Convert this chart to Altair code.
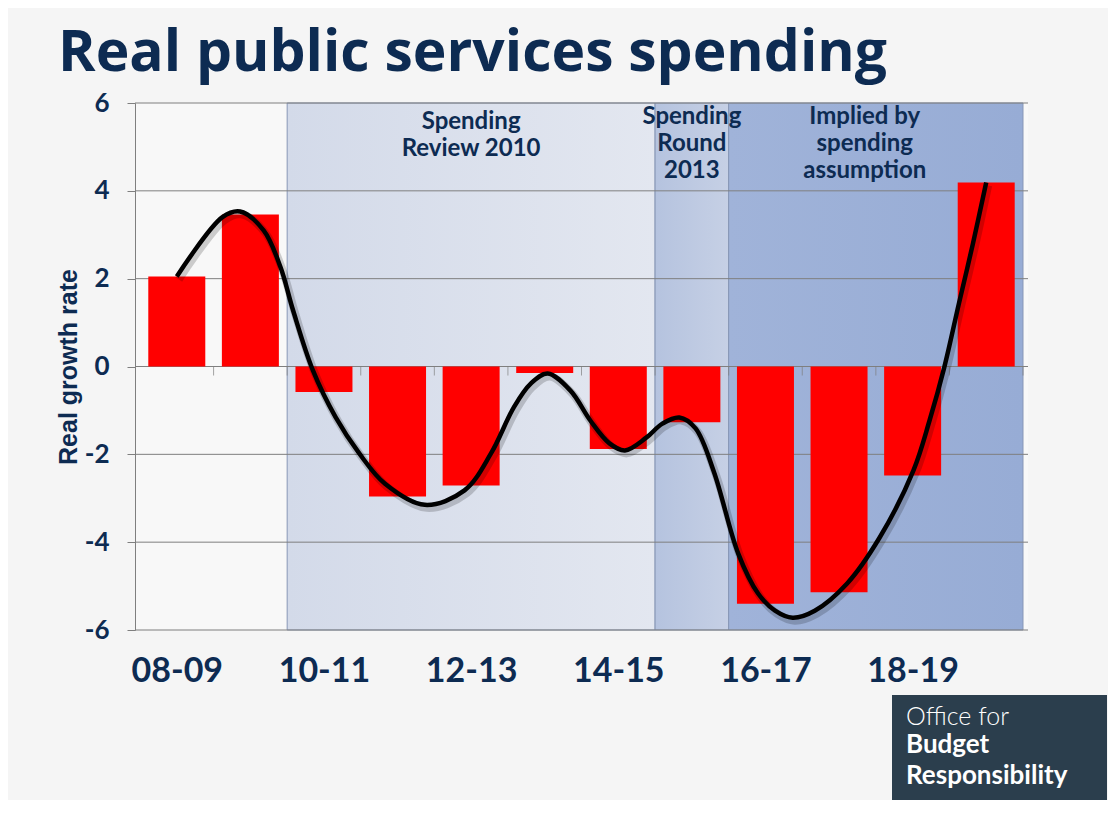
import altair as alt
import pandas as pd

NAVY = "#0d2b52"

years = ["08-09", "09-10", "10-11", "11-12", "12-13", "13-14",
         "14-15", "15-16", "16-17", "17-18", "18-19", "19-20"]
growth = [2.05, 3.46, -0.58, -2.96, -2.71, -0.15,
          -1.88, -1.27, -5.40, -5.14, -2.48, 4.19]

# hand-drawn trend curve (position on the year index, value)
curve_x = [0.0, 0.62, 0.86, 1.18, 1.41, 1.58, 1.85, 2.16, 2.48, 2.83,
           3.37, 3.91, 4.27, 4.58, 4.81, 5.04, 5.35, 5.62, 5.88, 6.09, 6.38,
           6.60, 6.83, 7.05, 7.30, 7.63, 7.90, 8.13, 8.37, 8.67, 9.11, 9.55,
           10.01, 10.23, 10.43, 10.63, 10.82, 11.0]
curve_y = [2.05, 3.40, 3.53, 3.10, 2.26, 1.28, -0.09, -1.16, -1.98, -2.67,
           -3.15, -2.82, -1.98, -0.93, -0.39, -0.16, -0.55, -1.23, -1.75, -1.91, -1.62,
           -1.30, -1.16, -1.41, -2.40, -4.26, -5.17, -5.56, -5.72, -5.56, -4.94, -3.90,
           -2.37, -1.23, -0.02, 1.44, 2.80, 4.19]

y_ticks = [-6, -4, -2, 0, 2, 4, 6]
x_label_idx = [0, 2, 4, 6, 8, 10]

band_labels = ["Spending\nReview 2010", "Spending\nRound\n2013",
               "Implied by\nspending\nassumption"]
band_start = [1.5, 6.5, 7.5]
band_end = [6.5, 7.5, 11.5]
band_text_x = [4.0, 7.0, 9.35]
band_text_y = [5.85, 5.95, 5.95]
band_fills = [("#d3dae9", "#e3e7f0"), ("#b5c3df", "#c6d0e5"), ("#a0b3d9", "#97acd5")]

W, H = 893, 527

bars_df = pd.DataFrame({"idx": range(len(years)), "year": years, "growth": growth})
curve_df = pd.DataFrame({"idx": curve_x, "val": curve_y})
grid_df = pd.DataFrame({"v": y_ticks})
ticks_df = pd.DataFrame({"b": [i + 0.5 for i in range(len(years))]})
bands_df = pd.DataFrame({"start": band_start, "end": band_end})
notes_df = pd.DataFrame({"label": band_labels, "x": band_text_x, "y": band_text_y})

label_expr = "[" + ",".join(f"'{y}'" for y in years) + "][datum.value]"

xs = alt.Scale(domain=[-0.5, len(years) - 0.5], nice=False, zero=False)
ys = alt.Scale(domain=[-6, 6], nice=False)

x_axis = alt.Axis(values=x_label_idx, labelExpr=label_expr, grid=False, domain=False,
                  ticks=False, labelFont="Lato", labelFontSize=34, labelFontWeight="bold",
                  labelColor=NAVY, labelPadding=24, title=None)
y_axis = alt.Axis(values=y_ticks, labelExpr="'' + datum.value", grid=False,
                  domainColor="#7f7f7f", tickColor="#7f7f7f", tickSize=8,
                  labelFont="Lato", labelFontSize=26, labelFontWeight="bold",
                  labelColor=NAVY, labelPadding=18, title="Real growth rate",
                  titleFont="Liberation Sans", titleFontSize=25, titleFontWeight="bold",
                  titleColor=NAVY, titlePadding=3)

base_x = alt.X("idx:Q", scale=xs, axis=x_axis)

band_layers = []
for i, (c0, c1) in enumerate(band_fills):
    band_layers.append(
        alt.Chart(bands_df.iloc[[i]]).mark_rect(
            fill=alt.Gradient(gradient="linear", x1=0, y1=0, x2=1, y2=0,
                              stops=[alt.GradientStop(color=c0, offset=0),
                                     alt.GradientStop(color=c1, offset=1)]),
            stroke="#8797b6", strokeWidth=1
        ).encode(x=alt.X("start:Q", scale=xs, axis=x_axis), x2="end:Q")
    )

grid = alt.Chart(grid_df).mark_rule(color="#7f7f7f", strokeWidth=1).encode(
    y=alt.Y("v:Q", scale=ys, axis=y_axis)
)

zero_ticks = alt.Chart(ticks_df).mark_tick(color="#7f7f7f", orient="vertical",
                                           size=9, thickness=1, yOffset=4.5).encode(
    x=alt.X("b:Q", scale=xs), y=alt.datum(0)
)

bars = alt.Chart(bars_df).mark_bar(color="#ff0000", size=57, orient="vertical").encode(
    x=base_x,
    y=alt.Y("growth:Q", scale=ys, axis=y_axis),
    y2=alt.datum(0),
)

shadow = alt.Chart(curve_df).mark_line(color="#000000", strokeWidth=8, opacity=0.18,
                                       interpolate="catmull-rom", xOffset=2, yOffset=3).encode(
    x=alt.X("idx:Q", scale=xs), y=alt.Y("val:Q", scale=ys), order="idx:Q"
)
curve = alt.Chart(curve_df).mark_line(color="#000000", strokeWidth=4.5,
                                      interpolate="catmull-rom").encode(
    x=alt.X("idx:Q", scale=xs), y=alt.Y("val:Q", scale=ys), order="idx:Q"
)

notes = alt.Chart(notes_df).mark_text(font="Lato", fontSize=24, fontWeight="bold",
                                      color=NAVY, lineBreak="\n", lineHeight=27,
                                      baseline="top", align="center").encode(
    x=alt.X("x:Q", scale=xs), y=alt.Y("y:Q", scale=ys), text="label:N"
)

one = pd.DataFrame({"k": [0]})
title = alt.Chart(one).mark_text(text="Real public services spending", font="Open Sans",
                                 fontSize=57, fontWeight="bold", color=NAVY, align="left",
                                 baseline="alphabetic", clip=False).encode(
    x=alt.value(-77), y=alt.value(-32)
)
logo_box = alt.Chart(one).mark_rect(color="#2b3e4d", clip=False).encode(
    x=alt.value(757), x2=alt.value(972), y=alt.value(592), y2=alt.value(698)
)
logo_l1 = alt.Chart(one).mark_text(text="Office for", font="Lato", fontSize=25,
                                   fontWeight=300, color="#ffffff", align="left",
                                   baseline="alphabetic", clip=False).encode(
    x=alt.value(771), y=alt.value(622)
)
logo_l2 = alt.Chart(one).mark_text(text="Budget", font="Lato", fontSize=26,
                                   fontWeight="bold", color="#ffffff", align="left",
                                   baseline="alphabetic", clip=False).encode(
    x=alt.value(771), y=alt.value(650)
)
logo_l3 = alt.Chart(one).mark_text(text="Responsibility", font="Lato", fontSize=26,
                                   fontWeight="bold", color="#ffffff", align="left",
                                   baseline="alphabetic", clip=False).encode(
    x=alt.value(771), y=alt.value(681)
)

chart = alt.layer(
    *band_layers, grid, zero_ticks, bars, shadow, curve, notes,
    title, logo_box, logo_l1, logo_l2, logo_l3
).properties(
    width=W, height=H,
    padding={"left": 127, "top": 95, "right": 80, "bottom": 170},
    autosize=alt.AutoSizeParams(type="none"),
    background="#f5f5f5",
).configure_view(fill="#f8f8f8", stroke=None)

chart.save("out.html", embed_options={"renderer": "svg", "actions": False})
